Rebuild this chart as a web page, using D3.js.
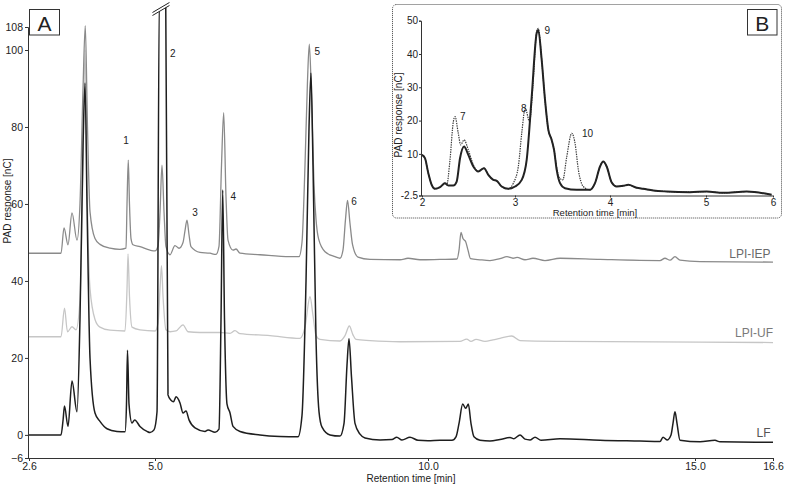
<!DOCTYPE html>
<html><head><meta charset="utf-8">
<script src="https://cdn.jsdelivr.net/npm/d3@7"></script>
<style>
body{margin:0;background:#fff;}
svg{display:block;font-family:"Liberation Sans",Arial,Helvetica,sans-serif;}
</style></head>
<body>
<svg id="chart" width="787" height="484"></svg>
<script>
// ---------- DATA (main panel A) ----------
const mainXTicks = [2.6, 5.0, 10.0, 15.0, 16.6];
const mainYTicks = [-6, 0, 20, 40, 60, 80, 100, 108];
const seriesNames = ["LPI-IEP", "LPI-UF", "LF"];

// [retention time (min), PAD response (nC)]
const traceLF = [
 [2.60,0],[3.21,0],[3.25,4],[3.276,7.5],[3.343,2.2],[3.419,14],[3.514,6],[3.571,30],[3.629,75],[3.667,91.4],
 [3.705,60],[3.762,20],[3.857,5.7],[3.952,3.5],[4.086,1.6],[4.276,0.9],[4.429,0.8],[4.457,8],[4.476,22],[4.505,8],
 [4.562,3.1],[4.613,3.9],[4.714,2.2],[4.848,0.9],[4.905,0.6],[4.981,1.3],[5.037,6],[5.079,118],[5.196,118],[5.238,10.4],
 [5.293,9],[5.339,8.6],[5.385,9.9],[5.458,8.3],[5.513,5.7],[5.568,6.2],[5.623,3.9],[5.733,1.8],[5.916,0.9],[5.971,1.3],
 [6.099,0.7],[6.172,1.5],[6.209,30],[6.240,63.6],[6.273,30],[6.319,8],[6.374,5.7],[6.429,2.2],[6.557,0.9],[6.923,0],
 [7.289,-0.4],[7.619,-0.5],[7.692,5],[7.766,40],[7.821,80],[7.857,94],[7.894,70],[7.949,25],[8.004,6],[8.059,2],
 [8.205,0],[8.388,-0.3],[8.462,3],[8.516,18],[8.553,25],[8.599,15],[8.663,3],[8.755,0.2],[8.846,-0.8],[9.121,-1.3],
 [9.341,-1.2],[9.427,-0.6],[9.524,-1.3],[9.670,-0.6],[9.817,-1.4],[10.0,-1.5],[10.225,-1.4],[10.449,-1.4],[10.524,-0.5],[10.581,3],
 [10.650,8],[10.706,6.9],[10.755,8],[10.805,3],[10.861,-0.5],[10.974,-1.4],[11.161,-1.6],[11.348,-1.2],[11.536,-0.7],[11.610,-1.0],
 [11.723,0],[11.816,-1.1],[11.910,-1.3],[12.004,-0.6],[12.116,-1.4],[12.472,-1.0],[13.221,-1.4],[13.970,-1.6],[14.345,-1.7],[14.401,-0.6],
 [14.476,-1.3],[14.551,0],[14.588,3],[14.625,6],[14.663,3],[14.719,-1.4],[15.103,-1.8],[15.410,-1.4],[15.513,-1.8],[16.6,-1.9]
];
const traceIEP = [
 [2.60,47.2],[3.21,47.2],[3.267,53.8],[3.343,49.4],[3.419,57.7],[3.514,50.6],[3.571,60],[3.629,90],[3.672,108.5],[3.714,80],
 [3.762,58],[3.857,51],[3.952,49.5],[4.143,48.5],[4.333,48.2],[4.448,48.5],[4.467,60],[4.491,71.4],[4.514,60],[4.543,51],
 [4.581,49.4],[4.714,48.9],[4.905,48],[5.0,47.8],[5.055,49],[5.092,58],[5.128,70.1],[5.165,58],[5.201,48.9],[5.275,46.8],
 [5.366,49.2],[5.440,48.5],[5.513,50],[5.549,53],[5.586,55.8],[5.623,52],[5.659,48.9],[5.824,47.4],[6.007,47.2],[6.117,46.9],
 [6.172,49],[6.218,70],[6.258,83.7],[6.300,62],[6.337,50.6],[6.429,48],[6.484,48.3],[6.557,47.2],[6.923,46.8],[7.473,46.3],
 [7.637,46.3],[7.692,50],[7.747,70],[7.793,92],[7.826,102],[7.866,88],[7.912,65],[7.949,56],[7.995,51],[8.114,47.6],
 [8.297,46.3],[8.388,45.9],[8.443,48],[8.489,56],[8.526,60.9],[8.571,55],[8.617,49.5],[8.718,46.2],[8.938,45.6],[9.487,45.5],
 [9.634,45.9],[9.853,45.5],[10.225,45.6],[10.543,45.7],[10.581,48],[10.618,52.6],[10.655,51],[10.706,50.2],[10.749,48],[10.796,45.8],
 [10.974,45.5],[11.161,45.3],[11.348,45.8],[11.479,46.3],[11.592,45.9],[11.667,46.1],[11.816,45.5],[11.966,45.9],[12.191,45.3],[12.472,45.9],
 [13.221,45.6],[14.345,45.3],[14.438,45.9],[14.532,45.4],[14.625,46.3],[14.719,45.4],[15.103,45.0],[16.6,44.9]
];
const traceUF = [
 [2.60,25.5],[3.21,25.5],[3.276,32.9],[3.333,26.8],[3.419,28.1],[3.495,27.3],[3.571,35],[3.629,70],[3.667,100],[3.705,65],
 [3.762,38],[3.857,30],[3.952,28],[4.143,27.2],[4.429,27],[4.467,38],[4.486,47],[4.514,36],[4.562,28],[4.714,27.3],
 [5.0,27],[5.055,29],[5.092,38],[5.119,44],[5.147,36],[5.201,27.3],[5.275,26.8],[5.385,27],[5.513,28.6],[5.604,26.8],
 [5.824,26.6],[6.190,26.6],[6.374,26.4],[6.465,27.1],[6.557,26.3],[7.106,25.8],[7.656,25.1],[7.747,28],[7.839,35.9],[7.894,31],
 [7.949,25.8],[8.022,24.8],[8.388,24.4],[8.480,25.8],[8.559,28.3],[8.626,26],[8.681,24.8],[8.938,24.5],[9.487,24.2],[10.599,24.3],
 [10.724,24.9],[10.805,24.3],[10.899,24.8],[11.067,24.3],[11.217,24.7],[11.348,25.1],[11.567,25.7],[11.723,24.5],[12.472,24.3],[15.103,24.1],
 [16.6,24.0]
];
const peakLabels = ["1","2","3","4","5","6"];
const peakLabelPos = [[4.448,76.4],[5.324,99.2],[5.733,57.7],[6.434,61.9],[7.971,99.6],[8.645,60.6]];

// ---------- DATA (inset panel B) ----------
const insetXTicks = [2, 3, 4, 5, 6];
const insetYTicks = [-2.5, 10, 20, 30, 40, 50];
const insetSolid = [
 [2.0,9.7],[2.032,8.7],[2.068,4.2],[2.104,0.7],[2.140,-0.5],[2.194,0],[2.247,1.2],[2.283,0.5],[2.337,0.5],[2.373,1.7],
 [2.409,8.7],[2.452,12.2],[2.498,9.7],[2.552,6.2],[2.605,4.7],[2.667,5.7],[2.713,3.7],[2.767,2.2],[2.803,1.9],[2.857,0.2],
 [2.928,-0.5],[3.0,0.2],[3.071,2.2],[3.123,8.2],[3.176,27.2],[3.228,46.2],[3.245,47.2],[3.281,38.2],[3.316,26.2],[3.351,17.2],
 [3.386,14.2],[3.411,11.2],[3.439,5.2],[3.474,1.2],[3.526,-0.3],[3.649,-0.8],[3.789,-0.8],[3.842,1.2],[3.895,6.2],[3.929,7.7],
 [3.965,6.2],[4.018,1.4],[4.070,0.2],[4.139,0.4],[4.191,0.7],[4.278,-0.2],[4.347,-0.5],[4.451,-1.0],[4.591,-1.3],[4.833,-1.5],
 [5.010,-1.3],[5.258,-1.7],[5.607,-1.3],[5.980,-2.3]
];
const insetDotted = [
 [2.0,9.7],[2.032,8.7],[2.068,4.2],[2.104,0.7],[2.140,-0.5],[2.194,0],[2.247,1.2],[2.266,0.7],[2.301,8.2],[2.337,19.7],
 [2.355,21.2],[2.390,16.2],[2.416,12.7],[2.452,14.2],[2.498,11.2],[2.552,6.7],[2.605,4.7],[2.667,5.7],[2.713,3.7],[2.767,2.2],
 [2.803,1.9],[2.857,0.2],[2.928,-0.5],[2.982,1.2],[3.035,6.2],[3.071,16.2],[3.108,23.7],[3.153,19.7],[3.190,31.2],[3.228,46.7],
 [3.245,47.7],[3.281,38.2],[3.316,26.2],[3.351,17.2],[3.386,14.2],[3.411,11.2],[3.439,6],[3.463,3],[3.503,2.2],[3.545,9.2],
 [3.597,16.2],[3.632,13.2],[3.667,5.2],[3.719,0.2],[3.789,-0.8],[3.842,1.2],[3.895,6.2],[3.929,7.7],[3.965,6.2],[4.018,1.4],
 [4.070,0.2],[4.139,0.4],[4.191,0.7],[4.278,-0.2],[4.347,-0.5],[4.451,-1.0],[4.591,-1.3],[4.833,-1.5],[5.010,-1.3],[5.258,-1.7],
 [5.607,-1.3],[5.980,-2.3]
];
const insetLabels = ["7","8","9","10"];
const insetLabelPos = [[2.409,21.2],[3.062,23.7],[3.311,47],[3.704,16.2]];

// ---------- DRAW ----------
const svg = d3.select("#chart");
const axisCol = "#333";

// main scales (tick spacing in reference is uneven -> piecewise linear)
const x = d3.scaleLinear().domain(mainXTicks).range([29,155,428,695,773]);
const y = d3.scaleLinear().domain([-6,100,108]).range([458,50,27]);

const line = d3.line().x(d=>x(d[0])).y(d=>y(d[1])).curve(d3.curveMonotoneX);

const gMain = svg.append("g");
const traces = [
  {data: traceUF, color: "#c6c6c6", w: 1.3},
  {data: traceIEP, color: "#8a8a8a", w: 1.3},
  {data: traceLF, color: "#1e1e1e", w: 1.5}
];
traces.forEach(t=>{
  gMain.append("path").attr("d", line(t.data)).attr("fill","none")
    .attr("stroke", t.color).attr("stroke-width", t.w).attr("stroke-linejoin","round");
});

// axis break on peak 2 (white band above lower slanted stroke)
const bx = x(5.137);
const slope = -0.59;
const x0 = bx-10, x1 = bx+7;
const yl0 = 15.5, yl1 = 15.5 + (x1-x0)*slope;
gMain.append("path").attr("d", `M${x0},${yl0} L${x1},${yl1} L${x1},0 L${x0},0 Z`).attr("fill","#fff");
gMain.append("line").attr("x1",x0).attr("y1",yl0).attr("x2",x1).attr("y2",yl1).attr("stroke","#222").attr("stroke-width",1);
gMain.append("line").attr("x1",x0).attr("y1",yl0-3).attr("x2",x1).attr("y2",yl1-3).attr("stroke","#222").attr("stroke-width",1);

// axes
const xAxis = d3.axisBottom(x).tickValues(mainXTicks).tickFormat(d3.format(".1f")).tickSizeOuter(0).tickSize(3).tickPadding(2);
const gx = svg.append("g").attr("transform","translate(0,458)").call(xAxis);
gx.select(".domain").attr("d","M28,0.5H773");
const yAxis = d3.axisLeft(y).tickValues(mainYTicks).tickSizeOuter(0).tickSize(3).tickPadding(2);
const gy = svg.append("g").attr("transform","translate(28,0)").call(yAxis);
[gx, gy].forEach(g=>{
  g.selectAll(".domain").attr("stroke",axisCol);
  g.selectAll(".tick line").attr("stroke",axisCol);
  g.selectAll("text").attr("fill","#222").style("font-size","10.5px").style("font-family","'Liberation Sans',Arial,sans-serif");
});

svg.append("text").attr("x",411).attr("y",482).attr("text-anchor","middle")
  .style("font-size","10px").attr("fill","#222").text("Retention time [min]");
svg.append("text").attr("transform","translate(10.5,201) rotate(-90)").attr("text-anchor","middle")
  .style("font-size","10px").attr("fill","#222").text("PAD response [nC]");

// panel label A
svg.append("rect").attr("x",29.5).attr("y",9.5).attr("width",30).attr("height",25.5)
  .attr("fill","#fff").attr("stroke","#333").attr("stroke-width",1);
svg.append("text").attr("x",44.5).attr("y",30.5).attr("text-anchor","middle")
  .style("font-size","21px").attr("fill","#222").text("A");

// peak labels
svg.selectAll(".pk").data(peakLabels).enter().append("text")
  .attr("x",(d,i)=>x(peakLabelPos[i][0])).attr("y",(d,i)=>y(peakLabelPos[i][1]))
  .attr("text-anchor","middle").attr("dy","0.35em")
  .style("font-size","10px").attr("fill","#222").text(d=>d);

// series labels
const seriesLabelPos = [[16.55,45],[16.6,24.5],[16.55,-1.5]];
const seriesLabelCol = ["#6a6a6a","#7a7a7a","#555"];
svg.selectAll(".sn").data(seriesNames).enter().append("text")
  .attr("x",(d,i)=>x(seriesLabelPos[i][0])).attr("y",(d,i)=>y(seriesLabelPos[i][1]))
  .attr("text-anchor","end").attr("dy","-0.3em")
  .style("font-size","12px").attr("fill",(d,i)=>seriesLabelCol[i]).text(d=>d);

// ---------- INSET ----------
const gIn = svg.append("g");
gIn.append("rect").attr("x",392.5).attr("y",4.5).attr("width",389).attr("height",213.5).attr("rx",4)
  .attr("fill","#fff").attr("stroke","#444").attr("stroke-width",1).attr("stroke-dasharray","1,1");

const xi = d3.scaleLinear().domain(insetXTicks).range([422,515,610,706,773]);
const yi = d3.scaleLinear().domain([-2.5,50]).range([195.5,20.7]);
const lineI = d3.line().x(d=>xi(d[0])).y(d=>yi(d[1])).curve(d3.curveMonotoneX);

gIn.append("path").attr("d",lineI(insetDotted)).attr("fill","none").attr("stroke","#3a3a3a")
  .attr("stroke-width",1.2).attr("stroke-dasharray","1.4,1");
gIn.append("path").attr("d",lineI(insetSolid)).attr("fill","none").attr("stroke","#222")
  .attr("stroke-width",2).attr("stroke-linejoin","round");

const xiAxis = d3.axisBottom(xi).tickValues(insetXTicks).tickFormat(d3.format("d")).tickSizeOuter(0).tickSize(2).tickPadding(1);
const gxi = gIn.append("g").attr("transform","translate(0,195.5)").call(xiAxis);
gxi.select(".domain").attr("d","M421,0.5H773");
const yiAxis = d3.axisLeft(yi).tickValues(insetYTicks).tickFormat(d=>d===-2.5?"-2.5":d).tickSizeOuter(0).tickSize(2).tickPadding(1);
const gyi = gIn.append("g").attr("transform","translate(421,0)").call(yiAxis);
[gxi, gyi].forEach(g=>{
  g.selectAll(".domain").attr("stroke",axisCol);
  g.selectAll(".tick line").attr("stroke",axisCol);
  g.selectAll("text").attr("fill","#222").style("font-size","10px").style("font-family","'Liberation Sans',Arial,sans-serif");
});
gIn.append("text").attr("x",595).attr("y",216).attr("text-anchor","middle")
  .style("font-size","9.5px").attr("fill","#222").text("Retention time [min]");
gIn.append("text").attr("transform","translate(402,115) rotate(-90)").attr("text-anchor","middle")
  .style("font-size","10px").attr("fill","#222").text("PAD response [nC]");

gIn.append("rect").attr("x",747.5).attr("y",9.5).attr("width",29.5).attr("height",25.5)
  .attr("fill","#fff").attr("stroke","#333").attr("stroke-width",1);
gIn.append("text").attr("x",762.2).attr("y",30.5).attr("text-anchor","middle")
  .style("font-size","21px").attr("fill","#222").text("B");

gIn.selectAll(".ipk").data(insetLabels).enter().append("text")
  .attr("x",(d,i)=>xi(insetLabelPos[i][0])).attr("y",(d,i)=>yi(insetLabelPos[i][1]))
  .attr("text-anchor","start").attr("dy","0.35em")
  .style("font-size","10px").attr("fill","#222").text(d=>d);
</script>
</body></html>
